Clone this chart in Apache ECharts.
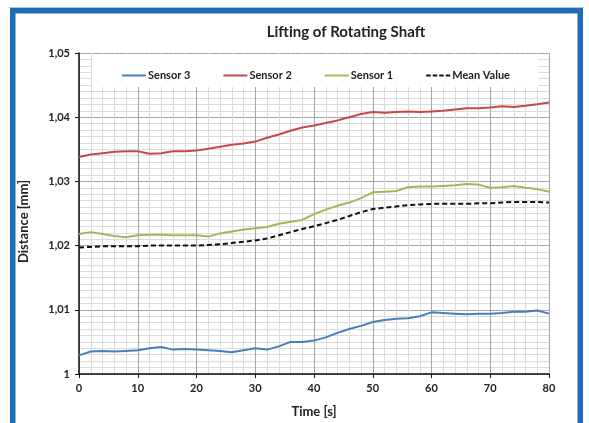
<!DOCTYPE html>
<html>
<head>
<meta charset="utf-8">
<script src="https://cdn.jsdelivr.net/npm/echarts@6/dist/echarts.min.js"></script>
<style>html,body{margin:0;padding:0;background:#fff;}#c{width:589px;height:423px;}</style>
</head>
<body>
<div id="c"></div>
<script>
var time = [0,2,4,6,8,10,12,14,16,18,20,22,24,26,28,30,32,34,36,38,40,42,44,46,48,50,52,54,56,58,60,62,64,66,68,70,72,74,76,78,80];
var sensor3 = [1.0029,1.0035,1.0036,1.0035,1.0036,1.0037,1.0040,1.0042,1.0038,1.0039,1.0038,1.0037,1.0036,1.0034,1.0037,1.0040,1.0038,1.0043,1.0050,1.0050,1.0052,1.0057,1.0064,1.0070,1.0075,1.0081,1.0084,1.0086,1.0087,1.0090,1.0096,1.0095,1.0094,1.0093,1.0094,1.0094,1.0095,1.0097,1.0097,1.0099,1.0094];
var sensor2 = [1.0338,1.0342,1.0344,1.0346,1.0347,1.0347,1.0343,1.0344,1.0347,1.0347,1.0348,1.0351,1.0354,1.0357,1.0359,1.0362,1.0368,1.0373,1.0379,1.0384,1.0387,1.0391,1.0395,1.0400,1.0405,1.0408,1.0407,1.0408,1.0409,1.0408,1.0409,1.0410,1.0412,1.0414,1.0414,1.0415,1.0417,1.0416,1.0418,1.0420,1.0423];
var sensor1 = [1.0218,1.0221,1.0218,1.0215,1.0213,1.0216,1.0217,1.0217,1.0216,1.0216,1.0216,1.0214,1.0219,1.0222,1.0225,1.0227,1.0229,1.0234,1.0237,1.0240,1.0249,1.0256,1.0262,1.0267,1.0274,1.0283,1.0284,1.0285,1.0291,1.0292,1.0292,1.0293,1.0294,1.0296,1.0295,1.0290,1.0291,1.0293,1.0290,1.0288,1.0284];
var meanValue = [1.0197,1.0198,1.0199,1.0199,1.0199,1.0199,1.0200,1.0200,1.0200,1.0200,1.0200,1.0201,1.0202,1.0204,1.0206,1.0208,1.0211,1.0216,1.0221,1.0226,1.0230,1.0235,1.0240,1.0246,1.0252,1.0257,1.0259,1.0261,1.0263,1.0264,1.0265,1.0265,1.0265,1.0265,1.0266,1.0266,1.0267,1.0268,1.0268,1.0268,1.0267];
var seriesNames = ['Sensor 3','Sensor 2','Sensor 1','Mean Value'];

function pairs(vals){ return time.map(function(t,i){ return [t, vals[i]]; }); }
var FONT = 'Lato';
var dashIcon = 'path://M0,0h4.5v2h-4.5z M6.5,0h4.5v2h-4.5z M13,0h4.5v2h-4.5z M19.5,0h4.5v2h-4.5z';
var chart = echarts.init(document.getElementById('c'), null, {renderer:'canvas'});
chart.setOption({
  backgroundColor:'#fff',
  animation:false,
  title:{
    text:'Lifting of Rotating Shaft', left:341, top:20, textAlign:'center',
    textStyle:{fontFamily:FONT, fontWeight:'bold', fontSize:15, color:'#222'}
  },
  legend:{
    z:10, left:117, top:65, itemWidth:24, itemHeight:2, itemGap:33,
    textStyle:{fontFamily:FONT, fontWeight:'bold', fontSize:11, color:'#222', padding:[0,0,0,-3]},
    data:[
      {name:seriesNames[0], icon:'rect'},
      {name:seriesNames[1], icon:'rect'},
      {name:seriesNames[2], icon:'rect'},
      {name:seriesNames[3], icon:dashIcon}
    ]
  },
  grid:{left:79, right:40, top:53, bottom:45, containLabel:false},
  xAxis:{
    type:'value', min:0, max:80, interval:10,
    name:'Time [s]', nameLocation:'middle', nameGap:31,
    nameTextStyle:{fontFamily:FONT, fontWeight:'bold', fontSize:13, color:'#222'},
    axisLine:{show:true, onZero:false, lineStyle:{color:'#111', width:1.5}},
    axisTick:{show:true, length:4, lineStyle:{color:'#111'}},
    axisLabel:{fontFamily:FONT, fontWeight:'bold', fontSize:11, color:'#222', margin:9},
    splitLine:{show:true, lineStyle:{color:'#a6a6a6', width:1}},
    minorTick:{show:false, splitNumber:5},
    minorSplitLine:{show:true, lineStyle:{color:'#dcdcdc', width:1}}
  },
  yAxis:{
    type:'value', min:1, max:1.05, interval:0.01,
    name:'Distance [mm]', nameLocation:'middle', nameGap:49,
    nameTextStyle:{fontFamily:FONT, fontWeight:'bold', fontSize:13, color:'#222', padding:[0,16,0,0]},
    axisLine:{show:true, lineStyle:{color:'#111', width:1.5}},
    axisTick:{show:true, length:4, lineStyle:{color:'#111'}},
    axisLabel:{fontFamily:FONT, fontWeight:'bold', fontSize:11, color:'#222', margin:9,
      formatter:function(v){ return String(parseFloat(v.toFixed(2))).replace('.', ','); }},
    splitLine:{show:true, lineStyle:{color:'#a6a6a6', width:1}},
    minorTick:{show:false, splitNumber:10},
    minorSplitLine:{show:true, lineStyle:{color:'#dcdcdc', width:1}}
  },
  graphic:[
    {type:'rect', z:5, shape:{x:92, y:54, width:446, height:33}, style:{fill:'#fff'}},
    {type:'rect', z:20, shape:{x:12.75, y:10.75, width:567.5, height:430}, style:{fill:'none', stroke:'#1f6cb3', lineWidth:5.5}},
    {type:'line', z:20, shape:{x1:9, y1:7.5, x2:584, y2:7.5}, style:{stroke:'#a9cbe9', lineWidth:1}}
  ],
  series:[
    {name:seriesNames[0], type:'line', data:pairs(sensor3), symbol:'none', lineStyle:{color:'#4a7ebb', width:2}, itemStyle:{color:'#4a7ebb'}},
    {name:seriesNames[1], type:'line', data:pairs(sensor2), symbol:'none', lineStyle:{color:'#c8484a', width:2}, itemStyle:{color:'#c8484a'}},
    {name:seriesNames[2], type:'line', data:pairs(sensor1), symbol:'none', lineStyle:{color:'#9bbb59', width:2}, itemStyle:{color:'#9bbb59'}},
    {name:seriesNames[3], type:'line', data:pairs(meanValue), symbol:'none', lineStyle:{color:'#111', width:2, type:[5,3]}, itemStyle:{color:'#111'}}
  ]
});
</script>
</body>
</html>
